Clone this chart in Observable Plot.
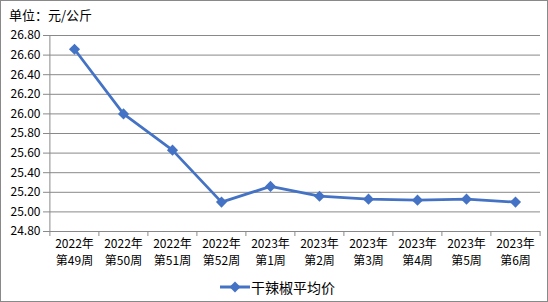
<!DOCTYPE html>
<html><head><meta charset="utf-8">
<script src="https://cdn.jsdelivr.net/npm/d3@7"></script>
<script src="https://cdn.jsdelivr.net/npm/@observablehq/plot@0.6"></script>
<style>
body{margin:0;background:#fff;}
#wrap{position:relative;width:548px;height:302px;box-sizing:border-box;border:1px solid #898989;font-family:"Noto Sans CJK SC",sans-serif;background:#fff;overflow:hidden;}
#title{position:absolute;left:8px;top:5px;font-size:13px;line-height:18px;color:#000;}
#chart{position:absolute;left:0;top:0;}
#legend{position:absolute;left:219px;top:276px;font-size:14px;line-height:20px;display:flex;align-items:center;color:#000;}
</style></head><body>
<div id="wrap"><div id="chart"></div><div id="title">单位：元/公斤</div>
<div id="legend"><svg width="30" height="14"><line x1="0" y1="7" x2="30" y2="7" stroke="#4472C4" stroke-width="3"/><path d="M15,1.5L20.5,7L15,12.5L9.5,7Z" fill="#4472C4"/></svg><span style="margin-left:1px">干辣椒平均价</span></div></div>
<script>
const years = ["2022年","2022年","2022年","2022年","2023年","2023年","2023年","2023年","2023年","2023年"];
const weeks = ["第49周","第50周","第51周","第52周","第1周","第2周","第3周","第4周","第5周","第6周"];
const prices = [26.66, 26.00, 25.63, 25.10, 25.26, 25.16, 25.13, 25.12, 25.13, 25.10];
const yTicks = [24.8, 25.0, 25.2, 25.4, 25.6, 25.8, 26.0, 26.2, 26.4, 26.6, 26.8];

const categories = years.map((y, i) => y + " " + weeks[i]);
const data = categories.map((c, i) => ({cat: c, price: prices[i]}));

const W = 546, H = 300, mL = 47, mR = 7, mT = 34, mB = 70;
const step = (W - mL - mR) / categories.length;
const grid = "#898989";

const chart = Plot.plot({
  width: W, height: H,
  marginLeft: mL, marginRight: mR, marginTop: mT, marginBottom: mB,
  style: {fontFamily: '"Noto Sans CJK SC", sans-serif', fontSize: "12px", color: "#000", background: "transparent"},
  x: {type: "point", domain: categories, padding: 0.5, label: null},
  y: {domain: [24.8, 26.8], label: null},
  marks: [
    Plot.gridY(yTicks, {stroke: grid, strokeOpacity: 1}),
    Plot.ruleX([categories[0]], {dx: -step / 2, stroke: grid}),
    Plot.axisY(yTicks, {tickSize: 5, tickPadding: 3, tickFormat: d => d.toFixed(2), stroke: grid, fill: "#000", label: null, fontSize: 12}),
    Plot.axisX(categories, {tickSize: 5, tickFormat: () => "", dx: -step / 2, stroke: grid, label: null}),
    Plot.axisX([categories[categories.length - 1]], {tickSize: 5, tickFormat: () => "", dx: step / 2, stroke: grid, label: null}),
    Plot.axisX(categories, {tickSize: 0, tickPadding: 8, tickFormat: d => years[categories.indexOf(d)], fill: "#000", label: null, fontSize: 12}),
    Plot.axisX(categories, {tickSize: 0, tickPadding: 25, tickFormat: d => weeks[categories.indexOf(d)], fill: "#000", label: null, fontSize: 12}),
    Plot.line(data, {x: "cat", y: "price", stroke: "#4472C4", strokeWidth: 2.75}),
    Plot.dot(data, {x: "cat", y: "price", symbol: "diamond2", r: 5, fill: "#4472C4"})
  ]
});
document.getElementById("chart").appendChild(chart);
</script>
</body></html>
